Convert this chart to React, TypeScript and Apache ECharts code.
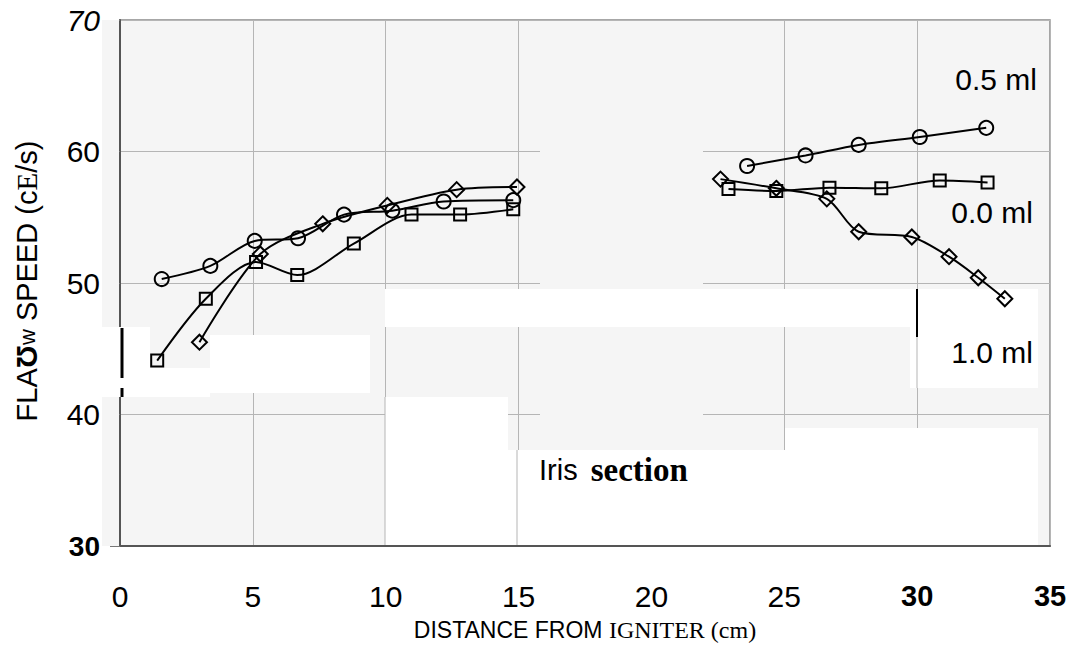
import React, { useEffect, useRef } from "react";
import * as echarts from "echarts";

// ---- data ----
const xTicks = [0, 5, 10, 15, 20, 25, 30, 35];
const yTicks = [30, 40, 50, 60, 70];

// 0.5 ml (circles)
const x05L = [1.57, 3.4, 5.07, 6.7, 8.43, 10.25, 12.18, 14.8];
const y05L = [50.3, 51.3, 53.2, 53.4, 55.2, 55.5, 56.2, 56.3];
const x05R = [23.6, 25.8, 27.8, 30.1, 32.6];
const y05R = [58.9, 59.7, 60.5, 61.1, 61.8];

// 0.0 ml (squares)
const x00L = [1.4, 3.23, 5.12, 6.67, 8.8, 10.97, 12.8, 14.8];
const y00L = [44.1, 48.8, 51.6, 50.6, 53.0, 55.2, 55.2, 55.6];
const x00R = [22.9, 24.7, 26.7, 28.65, 30.85, 32.65];
const y00R = [57.15, 57.0, 57.25, 57.2, 57.8, 57.65];

// 1.0 ml (diamonds)
const x10L = [2.99, 5.28, 7.63, 10.06, 12.67, 14.94];
const y10L = [45.5, 52.2, 54.5, 55.9, 57.1, 57.3];
const x10R = [22.6, 24.7, 26.6, 27.8, 29.8, 31.2, 32.3, 33.3];
const y10R = [57.9, 57.2, 56.4, 53.9, 53.5, 52.0, 50.4, 48.8];

const seriesLabels = ["0.5 ml", "0.0 ml", "1.0 ml"];
const xTitleA = "DISTANCE FROM ";
const xTitleB = "IGNITER (cm)";
const noteA = "Iris";
const noteB = "section";

const zip = (xs: number[], ys: number[]) => xs.map((x, i) => [x, ys[i]]);

const SANS = "'Liberation Sans', Arial, sans-serif";
const SERIF = "'Liberation Serif', 'Times New Roman', serif";

function mkSeries(name: string, xs: number[], ys: number[], symbol: string, size: number) {
  return {
    name,
    type: "line",
    data: zip(xs, ys),
    smooth: 0.3,
    symbol,
    symbolSize: size,
    showSymbol: true,
    lineStyle: { color: "#000", width: 2 },
    itemStyle: { color: "rgba(0,0,0,0)", borderColor: "#000", borderWidth: 2 },
    z: 3,
  };
}

export default function App() {
  const ref = useRef<HTMLDivElement>(null);
  useEffect(() => {
    if (!ref.current) return;
    const chart = echarts.init(ref.current, null, { renderer: "svg" });
    const white = (x: number, y: number, w: number, h: number) => ({
      type: "rect",
      shape: { x, y, width: w, height: h },
      style: { fill: "#ffffff" },
      z: 1,
      silent: true,
    });
    const bg = "#f5f5f5";
    const option: any = {
      animation: false,
      backgroundColor: "#ffffff",
      grid: {
        left: 120,
        right: 21,
        top: 20,
        bottom: 117,
        show: true,
        backgroundColor: bg,
        borderColor: "#8a8a8a",
        borderWidth: 1.5,
      },
      xAxis: {
        type: "value",
        min: 0,
        max: 35,
        interval: 5,
        axisLine: { show: true, lineStyle: { color: "#555", width: 2 } },
        axisTick: { show: false },
        splitLine: { show: true, lineStyle: { color: "#b5b5b5", width: 1 } },
        axisLabel: {
          margin: 35,
          color: "#000",
          fontSize: 30,
          fontFamily: SANS,
          formatter: (v: number) => (v >= 30 ? `{b|${v}}` : `{n|${v}}`),
          rich: {
            n: { fontSize: 30, fontFamily: SANS, color: "#000" },
            b: { fontSize: 29, fontFamily: SANS, fontWeight: "bold", color: "#000" },
          },
        },
      },
      yAxis: {
        type: "value",
        min: 30,
        max: 70,
        interval: 10,
        axisLine: { show: true, lineStyle: { color: "#555", width: 2 } },
        axisTick: { show: true, inside: false, length: 10, lineStyle: { color: "#777", width: 1 } },
        splitLine: { show: true, lineStyle: { color: "#b5b5b5", width: 1 } },
        axisLabel: {
          margin: 20,
          color: "#000",
          fontSize: 30,
          fontFamily: SANS,
          formatter: (v: number) =>
            v === 70 ? `{i|${v}}` : v === 30 ? `{b|${v}}` : `{n|${v}}`,
          rich: {
            n: { fontSize: 30, fontFamily: SANS, color: "#000" },
            i: { fontSize: 30, fontFamily: SANS, fontStyle: "italic", color: "#000" },
            b: { fontSize: 28, fontFamily: SANS, fontWeight: "bold", color: "#000" },
          },
        },
      },
      series: [
        mkSeries("0.5 ml", x05L, y05L, "circle", 14),
        mkSeries("0.5 ml R", x05R, y05R, "circle", 14),
        mkSeries("0.0 ml", x00L, y00L, "rect", 12),
        mkSeries("0.0 ml R", x00R, y00R, "rect", 12),
        mkSeries("1.0 ml", x10L, y10L, "diamond", 15),
        mkSeries("1.0 ml R", x10R, y10R, "diamond", 15),
      ],
      graphic: [
        // gray strip left of the axis (scan)
        { type: "rect", shape: { x: 102, y: 20, width: 17, height: 307 }, style: { fill: bg }, z: 1, silent: true },
        { type: "rect", shape: { x: 102, y: 397, width: 17, height: 149 }, style: { fill: bg }, z: 1, silent: true },
        // middle column without grid lines
        { type: "rect", shape: { x: 540, y: 21, width: 163, height: 268 }, style: { fill: bg }, z: 1, silent: true },
        { type: "rect", shape: { x: 540, y: 327, width: 163, height: 123 }, style: { fill: bg }, z: 1, silent: true },
        // white scan patches
        white(385, 289, 653, 38),
        white(910, 327, 128, 61),
        white(100, 327, 50, 70),
        white(150, 368, 60, 29),
        white(210, 335, 160, 58),
        white(385, 397, 123, 148),
        white(508, 450, 277, 95),
        white(785, 428, 253, 117),
        // grid lines visible through the patches
        { type: "line", shape: { x1: 385, y1: 397, x2: 385, y2: 545 }, style: { stroke: "#b5b5b5", lineWidth: 1 }, z: 1.5, silent: true },
        { type: "line", shape: { x1: 517, y1: 450, x2: 517, y2: 545 }, style: { stroke: "#b5b5b5", lineWidth: 1 }, z: 1.5, silent: true },
        { type: "line", shape: { x1: 917, y1: 337, x2: 917, y2: 388 }, style: { stroke: "#b5b5b5", lineWidth: 1 }, z: 1.5, silent: true },
        // black scan marks
        { type: "line", shape: { x1: 122, y1: 328, x2: 122, y2: 378 }, style: { stroke: "#000", lineWidth: 3 }, z: 1.5, silent: true },
        { type: "line", shape: { x1: 122, y1: 388, x2: 122, y2: 397 }, style: { stroke: "#000", lineWidth: 3 }, z: 1.5, silent: true },
        { type: "line", shape: { x1: 917, y1: 289, x2: 917, y2: 337 }, style: { stroke: "#000", lineWidth: 2 }, z: 1.5, silent: true },
        // series labels
        {
          type: "text", x: 1037, y: 79, z: 4,
          style: { text: seriesLabels[0], fill: "#000", font: `30px ${SANS}`, align: "right", verticalAlign: "middle" },
        },
        {
          type: "text", x: 1033, y: 212, z: 4,
          style: { text: seriesLabels[1], fill: "#000", font: `30px ${SANS}`, align: "right", verticalAlign: "middle" },
        },
        {
          type: "text", x: 1033, y: 352, z: 4,
          style: { text: seriesLabels[2], fill: "#000", font: `30px ${SANS}`, align: "right", verticalAlign: "middle" },
        },
        // Iris section note
        {
          type: "text", x: 539, y: 470, z: 4,
          style: {
            text: `{a|${noteA}}{sp| }{b|${noteB}}`,
            align: "left",
            verticalAlign: "middle",
            rich: {
              a: { fontSize: 29, fontFamily: SANS, color: "#000" },
              sp: { fontSize: 29, fontFamily: SANS, width: 13, color: "#000" },
              b: { fontSize: 33, fontFamily: SERIF, fontWeight: "bold", color: "#000" },
            },
          },
        },
        // x axis title
        {
          type: "text", x: 585, y: 630, z: 4,
          style: {
            text: `{a|${xTitleA}}{b|${xTitleB}}`,
            align: "center",
            verticalAlign: "middle",
            rich: {
              a: { fontSize: 23, fontFamily: SANS, color: "#000" },
              b: { fontSize: 24, fontFamily: SERIF, color: "#000" },
            },
          },
        },
        // y axis title
        {
          type: "text", x: 27, y: 281, rotation: Math.PI / 2, z: 4,
          style: {
            text: "{n|FLA}{b|Ʊ}{s|ᴡ}{n| SPEED (c}{e|E}{n|/s)}",
            align: "center",
            verticalAlign: "middle",
            rich: {
              n: { fontSize: 29, fontFamily: SANS, color: "#000" },
              b: { fontSize: 29, fontFamily: SANS, fontWeight: "bold", color: "#000" },
              s: { fontSize: 22, fontFamily: SANS, color: "#000" },
              e: { fontSize: 29, fontFamily: SERIF, color: "#000" },
            },
          },
        },
      ],
    };
    chart.setOption(option);
    return () => chart.dispose();
  }, []);
  return <div ref={ref} style={{ width: 1071, height: 663, position: "absolute", left: 0, top: 0 }} />;
}
